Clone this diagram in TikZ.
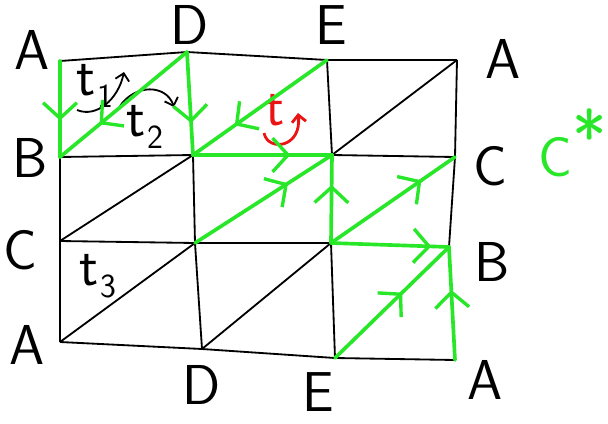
\documentclass[tikz,border=0pt]{standalone}
\usepackage{tikz}
\usetikzlibrary{arrows.meta,decorations.markings}
\definecolor{pen}{RGB}{40,230,40}
\definecolor{redpen}{RGB}{235,20,20}
\tikzset{
  grid line/.style={line width=1.3pt,black},
  pen line/.style={line width=2.6pt,pen,line cap=round},
  flow/.style={pen line,postaction={decorate},
    decoration={markings,mark=at position #1 with
      {\arrow{Straight Barb[length=11pt,width=24pt,line width=2.4pt]}}}},
  vlab/.style={font=\fontsize{40}{44}\selectfont\sffamily},
  tri/.style={font=\fontsize{40}{44}\selectfont\sffamily},
  turn/.style={line width=1.3pt,-{Straight Barb[length=5pt,width=10pt]}},
}
\newcommand{\tname}[1]{t\kern1pt\raisebox{-0.5ex}{\fontsize{24}{26}\selectfont #1}}

\begin{document}
\begin{tikzpicture}[x=0.025cm,y=-0.025cm]
  \useasboundingbox (0,0) rectangle (608,423);
  % grid vertices, row by row
  \foreach \n/\x/\y in {v00/60/61,  v01/187/52,  v02/327/60,  v03/457/60,
                        v10/60/157, v11/193/155, v12/332/155, v13/455/157,
                        v20/60/241, v21/195/243, v22/331/243, v23/449/247,
                        v30/60/342, v31/202/349, v32/335/358, v33/455/360}
    \coordinate (\n) at (\x,\y);
  \foreach \r in {0,...,3}{
    \draw[grid line] (v\r0) -- (v\r1) -- (v\r2) -- (v\r3);
    \draw[grid line] (v0\r) -- (v1\r) -- (v2\r) -- (v3\r);
  }
  \foreach \r/\s in {1/0,2/1,3/2}
    \foreach \c/\d in {0/1,1/2,2/3}
      \draw[grid line] (v\r\c) -- (v\s\d);
  % edge labels
  \node[vlab] (tA1) at (32,50)   {A};
  \node[vlab] (tD)  at (190,25)  {D};
  \node[vlab] (tE)  at (331,25)  {E};
  \node[vlab] (tA2) at (503,59)  {A};
  \node[vlab] (lB)  at (30,158)  {B};
  \node[vlab] (lC)  at (20,250)  {C};
  \node[vlab] (bA1) at (27,345)  {A};
  \node[vlab] (bD)  at (202,385) {D};
  \node[vlab] (bE)  at (318,392) {E};
  \node[vlab] (rC)  at (490,166) {C};
  \node[vlab] (rB)  at (492,262) {B};
  \node[vlab] (bA2) at (485,380) {A};
  \node[vlab,pen] (cstar) at (573,143)
    {C\raisebox{0.55ex}{\fontsize{52}{52}\selectfont *}};
  % triangles
  \node[tri] (t1) at (95,86)  {\tname{1}};
  \node[tri] (t2) at (145,127) {\tname{2}};
  \node[tri] (t3) at (98,276) {\tname{3}};
  \node[tri,redpen] (tr) at (275,110) {t};
  \draw[turn] (77,110) .. controls (96,118) and (118,100) .. (124,72);
  \draw[turn] (120,106) .. controls (135,84) and (166,84) .. (174,107);
  \draw[turn,redpen,line width=2pt] (264,133) .. controls (268,152) and (302,148) .. (298,113);
  % green path
  \draw[flow=0.62] (v00) -- (v10);
  \draw[flow=0.69] (v01) -- (v11);
  \draw[flow=0.69] (v01) -- (v10);
  \draw[flow=0.69] (v02) -- (v11);
  \draw[flow=0.70] (v11) -- (v12);
  \draw[flow=0.68] (v21) -- (v12);
  \draw[flow=0.66] (v22) -- (v12);
  \draw[flow=0.73] (v22) -- (v13);
  \draw[flow=0.85] (v22) -- (v23);
  \draw[flow=0.59] (v32) -- (v23);
  \draw[flow=0.62] (v33) -- (v23);
\end{tikzpicture}
\end{document}
